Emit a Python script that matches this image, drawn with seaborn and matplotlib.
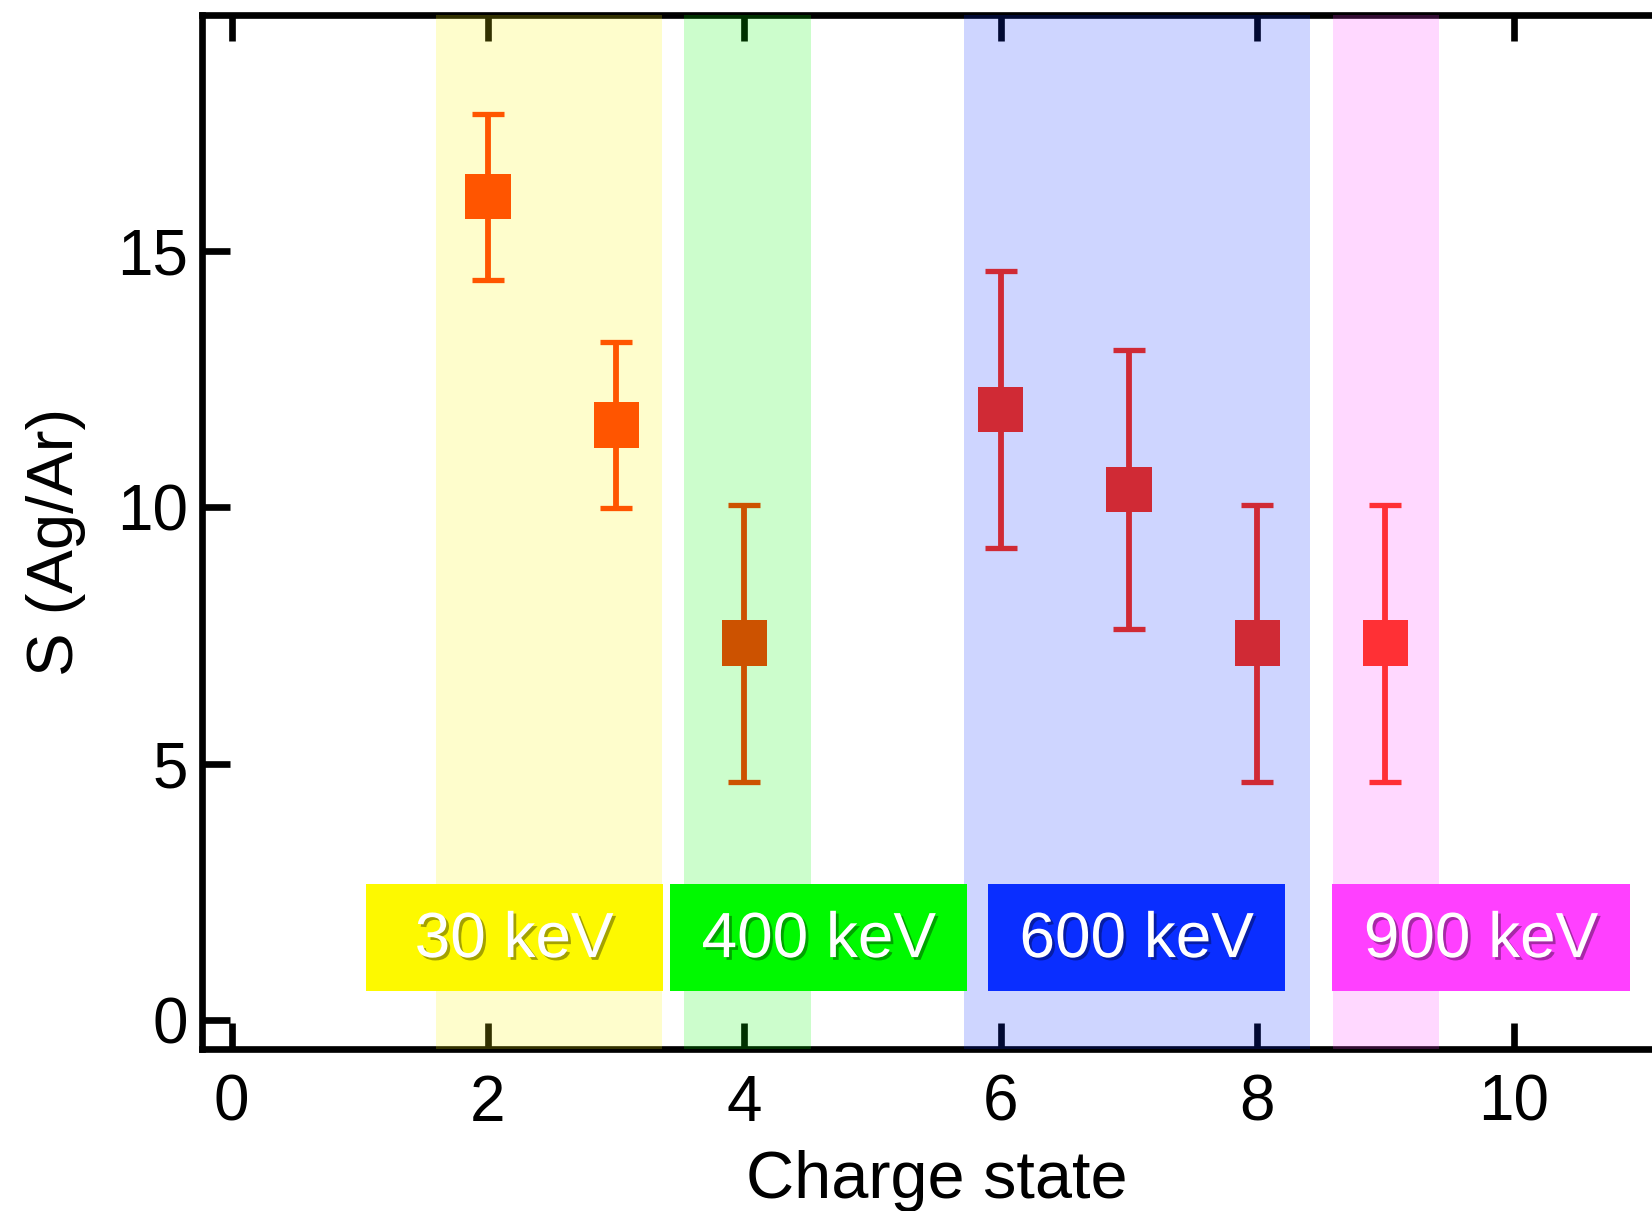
import numpy as np
import pandas as pd
import matplotlib
matplotlib.use("Agg")
import matplotlib.pyplot as plt
import matplotlib.patheffects as pe
from matplotlib.patches import Rectangle
import seaborn as sns

# Measured sputtering ratio per charge state
charge_state = [2, 3, 4, 6, 7, 8, 9]
ratio = [16.05, 11.6, 7.35, 11.9, 10.35, 7.35, 7.35]
ratio_err = [1.62, 1.62, 2.7, 2.7, 2.72, 2.7, 2.7]
beam = ["30 keV", "30 keV", "400 keV", "600 keV", "600 keV", "600 keV", "900 keV"]

# Energy groups: shaded charge-state span and label colour
energy_labels = ["30 keV", "400 keV", "600 keV", "900 keV"]
band_start = [1.59, 3.53, 5.71, 8.59]
band_end = [3.355, 4.52, 8.41, 9.42]
group_colors = ["#fdf900", "#00f900", "#0a2eff", "#ff40ff"]
marker_colors = {"30 keV": "#ff5500", "400 keV": "#cc5200",
                 "600 keV": "#d02a35", "900 keV": "#ff3035"}

x_ticks = [0, 2, 4, 6, 8, 10]
y_ticks = [0, 5, 10, 15]

df = pd.DataFrame({"charge": charge_state, "S": ratio, "err": ratio_err, "beam": beam})

sns.set_style("white")
plt.rcParams["font.family"] = ["Liberation Sans", "DejaVu Sans"]
plt.rcParams["text.color"] = "black"
plt.rcParams["axes.labelcolor"] = "black"

fig = plt.figure(figsize=(16.52, 12.11), dpi=100)
ax = fig.add_axes([0.1224, 0.134, 0.8776, 0.854])

# translucent bands over each energy range
for x0, x1, c in zip(band_start, band_end, group_colors):
    ax.axvspan(x0, x1, color=c, alpha=0.2, lw=0, zorder=3)

# solid label boxes near the bottom
box_left = [1.044, 3.42, 5.90, 8.586]
box_w = 2.32
box_y0, box_h = 0.575, 2.075
for lbl, x0, c in zip(energy_labels, box_left, group_colors):
    ax.add_patch(Rectangle((x0, box_y0), box_w, box_h, facecolor=c,
                           edgecolor="none", zorder=4))
    ax.text(x0 + box_w / 2, box_y0 + box_h / 2 - 0.05, lbl, color="white",
            fontsize=46, ha="center", va="center", zorder=5,
            path_effects=[pe.SimplePatchShadow(offset=(2, -2), shadow_rgbFace="black",
                                               alpha=0.35),
                          pe.Normal()])

# error bars
for _, row in df.iterrows():
    ax.errorbar(row["charge"], row["S"], yerr=row["err"], fmt="none",
                ecolor=marker_colors[row["beam"]], elinewidth=4.2,
                capsize=11.5, capthick=3.8, zorder=6)

sns.scatterplot(data=df, x="charge", y="S", hue="beam", palette=marker_colors,
                marker="s", s=1060, linewidth=0, legend=False, ax=ax, zorder=7)

ax.set_xlim(-0.23, 11.08)
ax.set_ylim(-0.555, 19.6)
ax.set_xticks(x_ticks)
ax.set_yticks(y_ticks)
ax.set_xticklabels([str(v) for v in x_ticks])
ax.set_yticklabels([str(v) for v in y_ticks])

for side in ["left", "top", "bottom"]:
    ax.spines[side].set_visible(True)
    ax.spines[side].set_linewidth(4.8)
    ax.spines[side].set_color("black")
ax.spines["right"].set_visible(False)

ax.tick_params(axis="x", which="major", direction="in", length=19, width=4.8,
               top=True, bottom=True, labelsize=46, pad=18, colors="black")
ax.tick_params(axis="y", which="major", direction="in", length=20, width=4.8,
               left=True, right=False, labelsize=46, pad=10, colors="black")

ax.set_xlabel("Charge state", fontsize=48, color="black")
ax.set_ylabel("S (Ag/Ar)", fontsize=47, color="black")
ax.xaxis.set_label_coords(0.507, -0.098)
ax.yaxis.set_label_coords(-0.08, 0.49)

fig.savefig("out.png", dpi=100)
